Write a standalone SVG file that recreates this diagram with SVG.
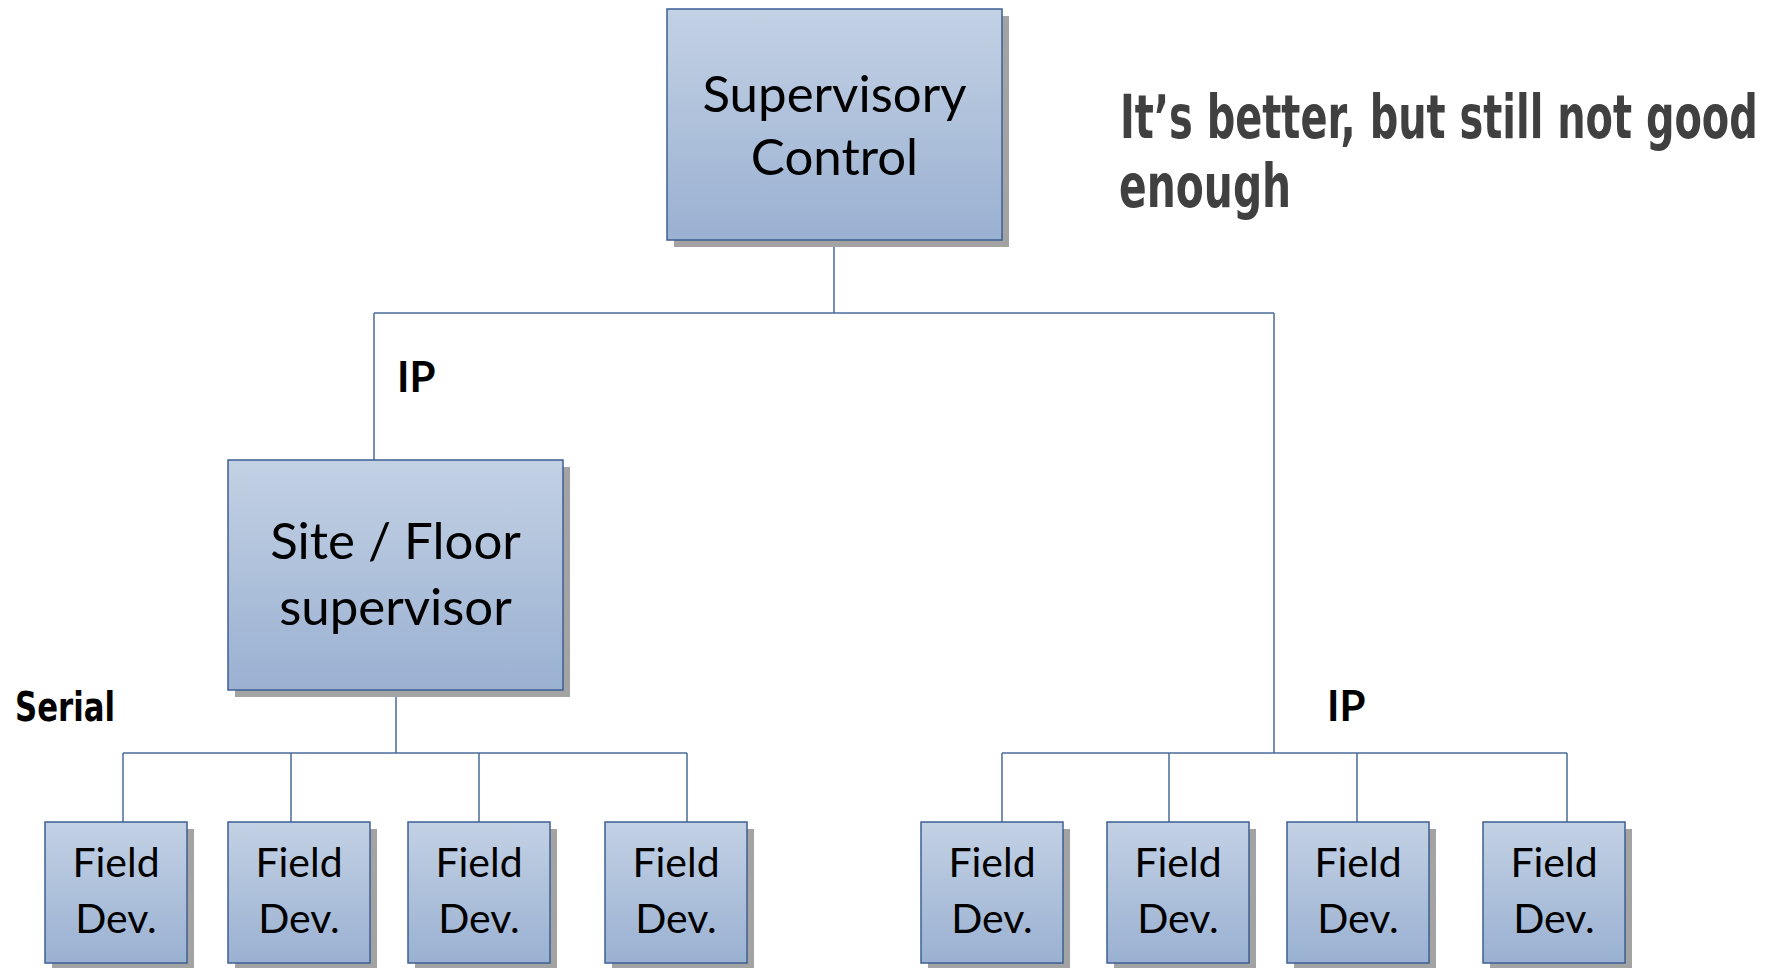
<svg xmlns="http://www.w3.org/2000/svg" width="1773" height="968" viewBox="0 0 1773 968">
<defs>
<linearGradient id="g" x1="0" y1="0" x2="0" y2="1">
<stop offset="0" stop-color="#c3d1e4"/>
<stop offset="1" stop-color="#9ab1d2"/>
</linearGradient>
<style>
.box{fill:url(#g);stroke:#3c5f93;stroke-width:1.5}
.sh{fill:#a3a3a3}
.t{font-family:Lato,"Open Sans",sans-serif;fill:#000;text-anchor:middle}
.big{font-size:51px}
.fd{font-size:41px}
.lbl{font-family:Lato,"Open Sans",sans-serif;font-weight:bold;font-size:42px;fill:#000}
.cond{font-family:"DejaVu Sans Condensed","DejaVu Sans",sans-serif;font-stretch:condensed;font-weight:bold}
.conn{fill:none;stroke:#4a6c9c;stroke-width:1.5}
</style>
</defs>
<rect width="1773" height="968" fill="#fff"/>
<g id="connectors">
<path class="conn" d="M834 240V313M374 313H1274M374 313V460M1274 313V753M396 690V753M123 753H687M123 753V822M291 753V822M479 753V822M687 753V822M1002 753H1567M1002 753V822M1169 753V822M1357 753V822M1567 753V822"/>
</g>
<g id="supervisory">
<rect class="sh" x="674" y="16" width="335" height="231"/>
<rect class="box" x="667" y="9" width="335" height="231"/>
<text class="t big" x="834.5" y="112">Supervisory</text>
<text class="t big" x="834.5" y="175">Control</text>
</g>
<g id="site">
<rect class="sh" x="235" y="467" width="335" height="230"/>
<rect class="box" x="228" y="460" width="335" height="230"/>
<text class="t big" x="395.5" y="559">Site / Floor</text>
<text class="t big" x="395.5" y="625">supervisor</text>
</g>
<g id="fd1"><rect class="sh" x="52" y="829" width="142" height="141"/><rect class="box" x="45" y="822" width="142" height="141"/><text class="t fd" x="116" y="877">Field</text><text class="t fd" x="116" y="933">Dev.</text></g>
<g id="fd2"><rect class="sh" x="235" y="829" width="142" height="141"/><rect class="box" x="228" y="822" width="142" height="141"/><text class="t fd" x="299" y="877">Field</text><text class="t fd" x="299" y="933">Dev.</text></g>
<g id="fd3"><rect class="sh" x="415" y="829" width="142" height="141"/><rect class="box" x="408" y="822" width="142" height="141"/><text class="t fd" x="479" y="877">Field</text><text class="t fd" x="479" y="933">Dev.</text></g>
<g id="fd4"><rect class="sh" x="612" y="829" width="142" height="141"/><rect class="box" x="605" y="822" width="142" height="141"/><text class="t fd" x="676" y="877">Field</text><text class="t fd" x="676" y="933">Dev.</text></g>
<g id="fd5"><rect class="sh" x="928" y="829" width="142" height="141"/><rect class="box" x="921" y="822" width="142" height="141"/><text class="t fd" x="992" y="877">Field</text><text class="t fd" x="992" y="933">Dev.</text></g>
<g id="fd6"><rect class="sh" x="1114" y="829" width="142" height="141"/><rect class="box" x="1107" y="822" width="142" height="141"/><text class="t fd" x="1178" y="877">Field</text><text class="t fd" x="1178" y="933">Dev.</text></g>
<g id="fd7"><rect class="sh" x="1294" y="829" width="142" height="141"/><rect class="box" x="1287" y="822" width="142" height="141"/><text class="t fd" x="1358" y="877">Field</text><text class="t fd" x="1358" y="933">Dev.</text></g>
<g id="fd8"><rect class="sh" x="1490" y="829" width="142" height="141"/><rect class="box" x="1483" y="822" width="142" height="141"/><text class="t fd" x="1554" y="877">Field</text><text class="t fd" x="1554" y="933">Dev.</text></g>
<g id="labels">
<text class="lbl" x="397" y="392">IP</text>
<text class="lbl" x="1327" y="721">IP</text>
<text class="cond" x="15" y="721" font-size="40" fill="#000" textLength="100" lengthAdjust="spacingAndGlyphs">Serial</text>
</g>
<g id="title" transform="translate(1120 0) scale(0.6 1)">
<text class="cond" x="0" y="138" font-size="60" fill="#404040" textLength="1063" lengthAdjust="spacingAndGlyphs">It’s better, but still not good</text>
<text class="cond" x="-1.7" y="207" font-size="60" fill="#404040" textLength="287" lengthAdjust="spacingAndGlyphs">enough</text>
</g>
</svg>
